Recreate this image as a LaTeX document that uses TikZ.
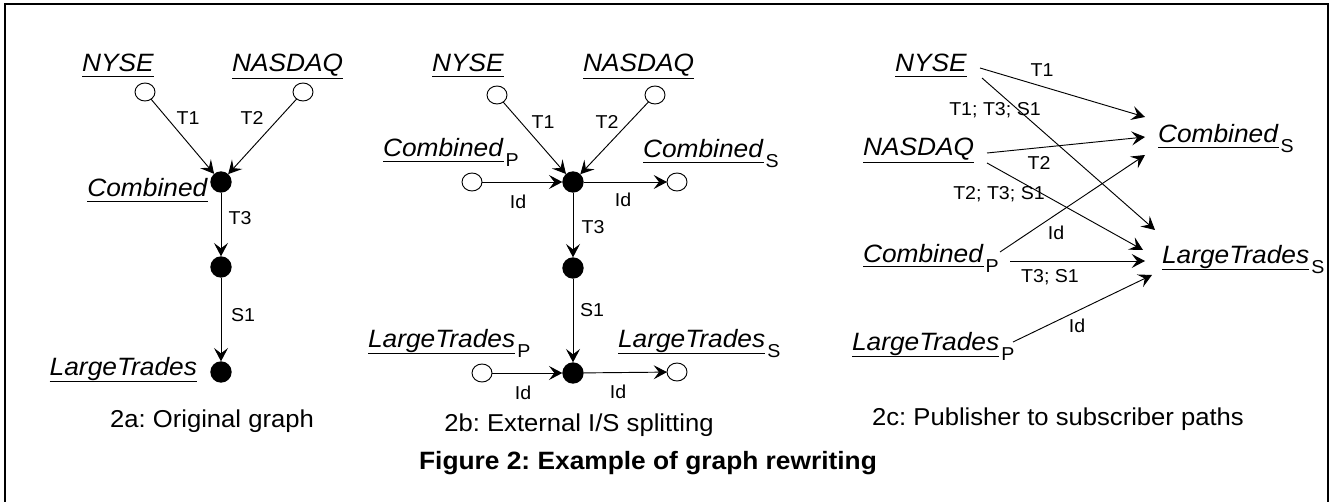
\documentclass[tikz,border=0pt]{standalone}
\usepackage{fontspec}
\setmainfont{Liberation Sans}[FakeStretch=1.05]
\usetikzlibrary{arrows.meta,shapes.geometric}
\frenchspacing
\newcommand\lab[1]{\setbox0\hbox{\textit{#1}}\rlap{\rule[\dimexpr-\dp0/2-3.6pt\relax]{\wd0}{0.8pt}}\box0}
\newcommand\subsc[1]{\hspace{1.5pt}\raisebox{-7.5pt}{\fontsize{14}{14}\selectfont #1}}
\begin{document}
\begin{tikzpicture}[x=0.75pt,y=-0.75pt,
  every node/.style={inner sep=0pt,outer sep=0pt},
  opn/.style={ellipse,draw,line width=0.7pt,minimum width=15pt,minimum height=13.5pt,fill=white},
  fil/.style={circle,fill=black,minimum size=16pt},
  vlab/.style={anchor=base west,font=\fontsize{18.8}{21}\selectfont},
  elab/.style={font=\fontsize{14}{16}\selectfont},
  captxt/.style={anchor=base,font=\fontsize{18.3}{21}\selectfont},
  arr/.style={-{Stealth[length=10pt,width=10.5pt,inset=4pt]},line width=0.7pt},
]
\useasboundingbox (0,0) rectangle (1333,502);
\draw[line width=1.5pt] (5,502) -- (5,4) -- (1328,4) -- (1328,502);

% ---------- 2a ----------
\node[opn] (a-nyse) at (145,92) {};
\node[opn] (a-nasdaq) at (303,92) {};
\node[fil] (a-comb) at (221,182) {};
\node[fil] (a-mid) at (221,267) {};
\node[fil] (a-lt) at (221,372) {};
\node[vlab] (a-nyse-l) at (82,72) {\lab{NYSE}};
\node[vlab] (a-nasdaq-l) at (232,72) {\lab{NASDAQ}};
\node[vlab,anchor=base east] (a-comb-l) at (208,197) {\lab{Combined}};
\node[vlab,anchor=base east] (a-lt-l) at (197,375) {\lab{LargeTrades}};
\draw[arr] (a-nyse) -- (a-comb);
\draw[arr] (a-nasdaq) -- (a-comb);
\draw[arr] (a-comb) -- (a-mid);
\draw[arr] (a-mid) -- (a-lt);
\node[elab] (a-t1) at (188,118) {T1};
\node[elab] (a-t2) at (252,118) {T2};
\node[elab] (a-t3) at (240,218) {T3};
\node[elab] (a-s1) at (243,315) {S1};
\node[captxt] (a-cap) at (212,427) {2a: Original graph};

% ---------- 2b ----------
\node[opn] (b-nyse) at (497,95) {};
\node[opn] (b-nasdaq) at (655,95) {};
\node[fil] (b-comb) at (573,182) {};
\node[opn] (b-cp) at (472,182) {};
\node[opn] (b-cs) at (677,182) {};
\node[fil] (b-mid) at (573,268) {};
\node[fil] (b-lt) at (573,373) {};
\node[opn] (b-lp) at (482,373) {};
\node[opn] (b-ls) at (677,372) {};
\node[vlab] (b-nyse-l) at (432,72) {\lab{NYSE}};
\node[vlab] (b-nasdaq-l) at (583,72) {\lab{NASDAQ}};
\node[vlab] (b-cp-l) at (383,157) {\lab{Combined}\subsc{P}};
\node[vlab] (b-cs-l) at (643,158) {\lab{Combined}\subsc{S}};
\node[vlab] (b-lp-l) at (368,347) {\lab{LargeTrades}\subsc{P}};
\node[vlab] (b-ls-l) at (618,347) {\lab{LargeTrades}\subsc{S}};
\draw[arr] (b-nyse) -- (b-comb);
\draw[arr] (b-nasdaq) -- (b-comb);
\draw[arr] (b-cp) -- (b-comb);
\draw[arr] (b-comb) -- (b-cs);
\draw[arr] (b-comb) -- (b-mid);
\draw[arr] (b-mid) -- (b-lt);
\draw[arr] (b-lp) -- (b-lt);
\draw[arr] (b-lt) -- (b-ls);
\node[elab] (b-t1) at (543,122) {T1};
\node[elab] (b-t2) at (607,122) {T2};
\node[elab] (b-id1) at (518,202) {Id};
\node[elab] (b-id2) at (623,200) {Id};
\node[elab] (b-t3) at (593,227) {T3};
\node[elab] (b-s1) at (592,310) {S1};
\node[elab] (b-id3) at (523,393) {Id};
\node[elab] (b-id4) at (618,392) {Id};
\node[captxt] (b-cap) at (579,431) {2b: External I/S splitting};

% ---------- 2c ----------
\node[vlab] (c-nyse) at (895,72) {\lab{NYSE}};
\node[vlab] (c-nasdaq) at (863,156) {\lab{NASDAQ}};
\node[vlab] (c-cp) at (863,262) {\lab{Combined}\subsc{P}};
\node[vlab] (c-lp) at (852,350) {\lab{LargeTrades}\subsc{P}};
\node[vlab] (c-cs) at (1158,143) {\lab{Combined}\subsc{S}};
\node[vlab] (c-ls) at (1162,263) {\lab{LargeTrades}\subsc{S}};
\coordinate (c-nyse-o1) at (980,68);
\coordinate (c-nyse-o2) at (982,78);
\coordinate (c-nasdaq-o1) at (987,153);
\coordinate (c-nasdaq-o2) at (987,163);
\coordinate (c-cp-o1) at (1000,252);
\coordinate (c-cp-o2) at (1010,261);
\coordinate (c-lp-o1) at (1013,342);
\coordinate (c-cs-i1) at (1145,117);
\coordinate (c-cs-i2) at (1145,137);
\coordinate (c-cs-i3) at (1145,155);
\coordinate (c-ls-i1) at (1155,230);
\coordinate (c-ls-i2) at (1143,250);
\coordinate (c-ls-i3) at (1145,261);
\coordinate (c-ls-i4) at (1152,275);
\draw[arr] (c-nyse-o1) -- (c-cs-i1);
\draw[arr] (c-nyse-o2) -- (c-ls-i1);
\draw[arr] (c-nasdaq-o1) -- (c-cs-i2);
\draw[arr] (c-nasdaq-o2) -- (c-ls-i2);
\draw[arr] (c-cp-o1) -- (c-cs-i3);
\draw[arr] (c-cp-o2) -- (c-ls-i3);
\draw[arr] (c-lp-o1) -- (c-ls-i4);
\node[elab] (c-t1) at (1042,70) {T1};
\node[elab] (c-t1t3s1) at (995,110) {T1; T3; S1};
\node[elab] (c-t2) at (1039,163) {T2};
\node[elab] (c-t2t3s1) at (999,194) {T2; T3; S1};
\node[elab] (c-id1) at (1056,233) {Id};
\node[elab] (c-t3s1) at (1050,277) {T3; S1};
\node[elab] (c-id2) at (1077,326) {Id};
\node[captxt] (c-cap) at (1058,425) {2c: Publisher to subscriber paths};

% ---------- title ----------
\node[captxt,font=\fontsize{18.8}{21}\selectfont\bfseries] (title) at (648,469) {Figure 2: Example of graph rewriting};
\end{tikzpicture}
\end{document}
